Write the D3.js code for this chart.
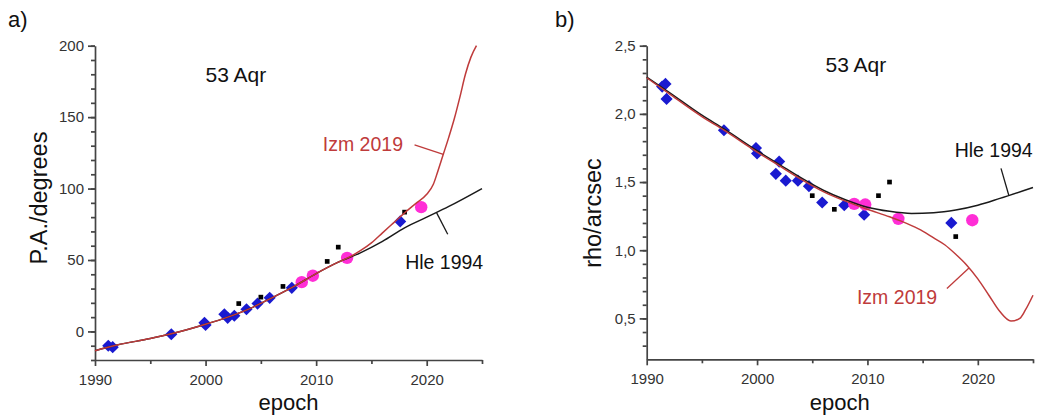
<!DOCTYPE html>
<html>
<head>
<meta charset="utf-8">
<script src="https://cdn.jsdelivr.net/npm/d3@7"></script>
<style>
  body { margin: 0; background: #fff; }
  svg { font-family: "Liberation Sans", Arial, sans-serif; }
</style>
</head>
<body>
<div id="chart"></div>
<script>
'use strict';

// ---- panel a) position angle ----
var paBlue = [[1991.2, -10], [1991.6, -11], [1996.9, -2], [1999.9, 6], [2000, 4.5],
  [2001.7, 12], [2002, 9.5], [2002.6, 11], [2003.7, 15.5], [2004.7, 19.5],
  [2005.8, 23.5], [2007.8, 30.5], [2017.6, 77]];
var paBlack = [[2003, 19.5], [2005, 24], [2007, 31.5], [2011, 49], [2012, 59], [2018, 83.5]];
var paMagenta = [[2008.7, 34.5], [2009.7, 39], [2012.8, 51.5], [2019.5, 87]];
var paHle = [[1990, -13.5], [1992, -9.5], [1995, -5], [1997, -1.5], [2000, 5], [2002, 10],
  [2004, 16], [2006, 23.5], [2008, 31.5], [2010, 40.5], [2012, 48.5], [2014, 55],
  [2016, 63], [2018, 72.5], [2020, 80], [2022, 87.5], [2025, 100]];
var paIzm = [[1990, -13.5], [1992, -9.5], [1995, -5], [1997, -1.5], [2000, 5], [2002, 10],
  [2004, 16], [2006, 23.5], [2008, 31.5], [2010, 40.5], [2012, 48.5], [2013, 52],
  [2014, 56.5], [2015, 62], [2016, 69], [2017, 76], [2018, 83], [2019, 89.5], [2020, 96],
  [2020.6, 103], [2021, 112], [2021.5, 124], [2022, 136], [2022.5, 149], [2023, 164],
  [2023.5, 180], [2024, 192], [2024.5, 200]];

// ---- panel b) separation ----
var rhoBlue = [[1991.4, 2.2], [1991.7, 2.22], [1991.8, 2.11], [1997, 1.88], [1999.9, 1.75],
  [2000, 1.71], [2001.7, 1.56], [2002, 1.65], [2002.6, 1.51], [2003.7, 1.51],
  [2004.7, 1.47], [2005.9, 1.35], [2007.9, 1.33], [2009.7, 1.26], [2017.6, 1.2]];
var rhoBlack = [[2005, 1.40], [2007, 1.30], [2011, 1.40], [2012, 1.50], [2018, 1.10]];
var rhoMagenta = [[2008.8, 1.34], [2009.8, 1.335], [2012.8, 1.23], [2019.5, 1.22]];
var rhoHle = [[1990, 2.27], [1992, 2.16], [1995, 1.99], [1997, 1.89], [2000, 1.73],
  [2002, 1.63], [2004, 1.53], [2006, 1.44], [2008, 1.37], [2010, 1.315], [2012, 1.285],
  [2014, 1.27], [2016, 1.275], [2018, 1.295], [2020, 1.33], [2022, 1.38], [2025, 1.46]];
var rhoIzm = [[1990, 2.265], [1992, 2.15], [1995, 1.98], [1997, 1.88], [2000, 1.72],
  [2002, 1.62], [2004, 1.52], [2006, 1.43], [2008, 1.36], [2010, 1.30], [2012, 1.245],
  [2013, 1.215], [2014, 1.18], [2015, 1.14], [2016, 1.09], [2017, 1.04], [2018, 0.97],
  [2019, 0.89], [2020, 0.79], [2021, 0.67], [2022, 0.55], [2023, 0.48], [2023.8, 0.5],
  [2024.3, 0.56], [2025, 0.67]];

var xTicks = [1990, 2000, 2010, 2020];
var xMinor = [1995, 2005, 2015, 2025];
var paTicks = [0, 50, 100, 150, 200];
var rhoTicks = [0.5, 1.0, 1.5, 2.0, 2.5];

var red = '#bf3b3b', blue = '#1a1ad0', magenta = '#ff2ed6', axisColor = '#444';
var commaFmt = d3.formatLocale({decimal: ',', thousands: '.', grouping: [3], currency: ['', '']}).format('.1f');

var svg = d3.select('#chart').append('svg')
  .attr('width', 1038)
  .attr('height', 418);

function styleAxis(s) {
  s.selectAll('path, line').attr('stroke', axisColor).attr('stroke-width', 1.7);
  s.selectAll('text')
    .style('font-size', '15px')
    .style('font-family', '"Liberation Sans", Arial, sans-serif')
    .attr('fill', '#333');
}

function drawPanel(p) {
  var x = d3.scaleLinear().domain([1990, 2025]).range(p.xRange);
  var y = d3.scaleLinear().domain(p.yDomain).range(p.yRange);
  var g = svg.append('g');

  // minor ticks
  g.append('g')
    .attr('transform', 'translate(0,' + p.yRange[0] + ')')
    .call(d3.axisBottom(x).tickValues(xMinor).tickSize(4).tickFormat(''))
    .call(function(s) { s.select('.domain').remove(); })
    .call(styleAxis);
  g.append('g')
    .attr('transform', 'translate(' + p.xRange[0] + ',0)')
    .call(d3.axisLeft(y).tickValues(d3.range(p.minorStart, p.yDomain[1] + 1e-9, p.minorStep)).tickSize(4).tickFormat(''))
    .call(function(s) { s.select('.domain').remove(); })
    .call(styleAxis);

  // main axes
  g.append('g')
    .attr('transform', 'translate(0,' + p.yRange[0] + ')')
    .call(d3.axisBottom(x).tickValues(xTicks).tickSize(6).tickPadding(8).tickFormat(d3.format('d')).tickSizeOuter(0))
    .call(styleAxis);
  g.append('g')
    .attr('transform', 'translate(' + p.xRange[0] + ',0)')
    .call(d3.axisLeft(y).tickValues(p.yTicks).tickSize(7).tickPadding(4).tickFormat(p.fmt).tickSizeOuter(0))
    .call(styleAxis);

  var sq = d3.symbol().type(d3.symbolSquare);

  g.append('g').selectAll('path')
    .data(p.blue).enter().append('path')
    .attr('d', sq.size(74)())
    .attr('transform', function(d) { return 'translate(' + x(d[0]) + ',' + y(d[1]) + ') rotate(45)'; })
    .attr('fill', blue);

  g.append('g').selectAll('path')
    .data(p.black).enter().append('path')
    .attr('d', sq.size(22)())
    .attr('transform', function(d) { return 'translate(' + x(d[0]) + ',' + y(d[1]) + ')'; })
    .attr('fill', '#000');

  g.append('g').selectAll('circle')
    .data(p.magenta).enter().append('circle')
    .attr('cx', function(d) { return x(d[0]); })
    .attr('cy', function(d) { return y(d[1]); })
    .attr('r', 6.2)
    .attr('fill', magenta);

  var line = d3.line()
    .x(function(d) { return x(d[0]); })
    .y(function(d) { return y(d[1]); })
    .curve(d3.curveMonotoneX);

  g.append('path').datum(p.hle)
    .attr('d', line)
    .attr('fill', 'none').attr('stroke', '#1a1a1a').attr('stroke-width', 1.5);
  g.append('path').datum(p.izm)
    .attr('d', line)
    .attr('fill', 'none').attr('stroke', red).attr('stroke-width', 1.5);

  // leader lines for the curve labels
  p.leaders.forEach(function(l) {
    g.append('line')
      .attr('x1', x(l.from[0])).attr('y1', y(l.from[1]))
      .attr('x2', x(l.to[0])).attr('y2', y(l.to[1]))
      .attr('stroke', l.color).attr('stroke-width', 1.3);
  });

  p.labels.forEach(function(t) {
    g.append('text')
      .attr('x', x(t.at[0])).attr('y', y(t.at[1]))
      .attr('fill', t.color)
      .style('font-size', t.size + 'px')
      .text(t.text);
  });

  // panel letter, axis titles
  g.append('text').attr('x', p.letterX).attr('y', 27)
    .style('font-size', '22px').attr('fill', '#111').text(p.letter);
  g.append('text')
    .attr('transform', 'translate(' + p.yTitleX + ',' + p.yTitleY + ') rotate(-90)')
    .attr('text-anchor', 'middle')
    .style('font-size', '23.5px').attr('fill', '#111')
    .text(p.yTitle);
  g.append('text')
    .attr('x', (p.xRange[0] + p.xRange[1]) / 2).attr('y', 410)
    .attr('text-anchor', 'middle')
    .style('font-size', '22px').attr('fill', '#111')
    .text('epoch');
}

drawPanel({
  xRange: [95, 482], yDomain: [-20, 200], yRange: [360, 45.7],
  yTicks: paTicks, minorStart: -20, minorStep: 10, fmt: d3.format('d'),
  blue: paBlue, black: paBlack, magenta: paMagenta, hle: paHle, izm: paIzm,
  letter: 'a)', letterX: 8, yTitle: 'P.A./degrees', yTitleX: 47, yTitleY: 198,
  leaders: [
    {from: [2018.9, 130.5], to: [2021.5, 124], color: red},
    {from: [2020.9, 83], to: [2021.9, 68], color: '#1a1a1a'}
  ],
  labels: [
    {text: '53 Aqr', at: [2000.0, 174.5], color: '#111', size: 21},
    {text: 'Izm 2019', at: [2010.6, 126.5], color: red, size: 19.5},
    {text: 'Hle 1994', at: [2018.05, 43.5], color: '#111', size: 19.5}
  ]
});

drawPanel({
  xRange: [646.7, 1033], yDomain: [0.2, 2.5], yRange: [359.3, 45.7],
  yTicks: rhoTicks, minorStart: 0.3, minorStep: 0.1, fmt: commaFmt,
  blue: rhoBlue, black: rhoBlack, magenta: rhoMagenta, hle: rhoHle, izm: rhoIzm,
  letter: 'b)', letterX: 555, yTitle: 'rho/arcsec', yTitleX: 601, yTitleY: 213,
  leaders: [
    {from: [2022.1, 1.60], to: [2022.8, 1.405], color: '#1a1a1a'},
    {from: [2017.2, 0.72], to: [2019.2, 0.87], color: red}
  ],
  labels: [
    {text: '53 Aqr', at: [2006.2, 2.31], color: '#111', size: 21},
    {text: 'Izm 2019', at: [2009.05, 0.605], color: red, size: 19.5},
    {text: 'Hle 1994', at: [2017.9, 1.684], color: '#111', size: 19.5}
  ]
});
</script>
</body>
</html>
